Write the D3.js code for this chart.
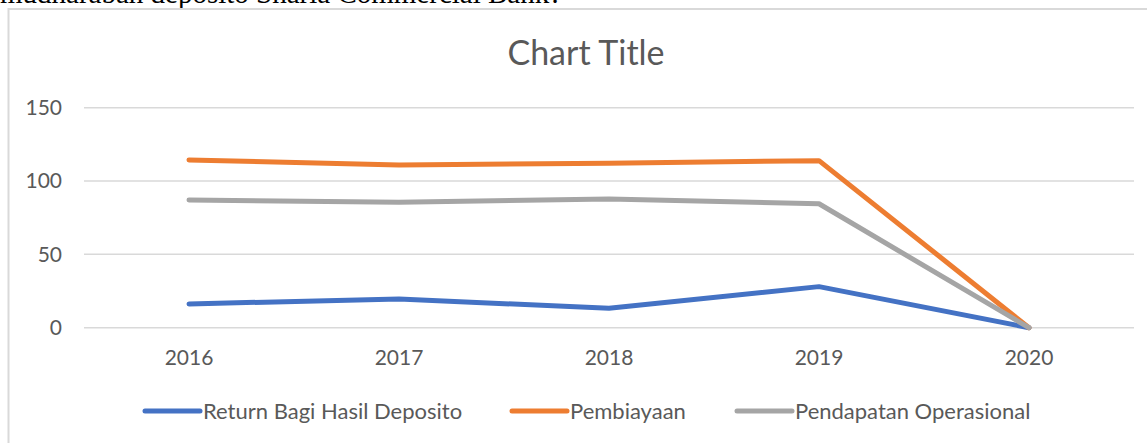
<!DOCTYPE html>
<html>
<head>
<meta charset="utf-8">
<script src="https://cdn.jsdelivr.net/npm/d3@7"></script>
<style>
  html, body { margin: 0; padding: 0; background: #fff; overflow: hidden; }
  svg { display: block; }
</style>
</head>
<body>
<div id="chart"></div>
<script>
// data
const years = ["2016", "2017", "2018", "2019", "2020"];
const returnBagiHasil = [16.2, 19.6, 13.2, 28.0, 0];
const pembiayaan = [114.4, 111.0, 112.1, 113.9, 0];
const pendapatanOps = [87.1, 85.5, 87.8, 84.5, 0];
const yTicks = [0, 50, 100, 150];
const seriesNames = ["Return Bagi Hasil Deposito", "Pembiayaan", "Pendapatan Operasional"];
const seriesColors = ["#4472C4", "#ED7D31", "#A5A5A5"];

((() => {
  const W = 1147, H = 443;
  const font = "Lato, 'Open Sans', sans-serif";
  const textCol = "#595959";

  const svg = d3.select("#chart").append("svg")
    .attr("width", W).attr("height", H);

  // bit of document text cut off above the chart
  svg.append("text")
    .attr("x", 0).attr("y", 2.5)
    .attr("font-family", "'Liberation Serif', serif")
    .attr("font-size", 29)
    .attr("fill", "#000")
    .text("mudharabah deposito Sharia Commercial Bank?");

  // chart area box
  svg.append("rect")
    .attr("x", 8.5).attr("y", 9)
    .attr("width", 1170).attr("height", 460)
    .attr("fill", "#fff")
    .attr("stroke", "#d9d9d9")
    .attr("stroke-width", 2);

  svg.append("text")
    .attr("x", 586).attr("y", 65)
    .attr("text-anchor", "middle")
    .attr("font-family", font)
    .attr("font-size", 34)
    .attr("fill", textCol)
    .text("Chart Title");

  const x = d3.scaleBand().domain(years).range([84, 1134]);
  const y = d3.scaleLinear().domain([0, 150]).range([327.7, 107.7]);

  // gridlines
  svg.append("g").selectAll("line")
    .data(yTicks).enter().append("line")
    .attr("x1", x.range()[0]).attr("x2", x.range()[1])
    .attr("y1", d => y(d)).attr("y2", d => y(d))
    .attr("stroke", "#d9d9d9").attr("stroke-width", 1.5);

  // y axis labels
  svg.append("g").selectAll("text")
    .data(yTicks).enter().append("text")
    .attr("x", 62).attr("y", d => y(d))
    .attr("dy", "0.35em")
    .attr("text-anchor", "end")
    .attr("font-family", font).attr("font-size", 21)
    .attr("fill", textCol)
    .text(d => d);

  // x axis labels
  svg.append("g").selectAll("text")
    .data(years).enter().append("text")
    .attr("x", d => x(d) + x.bandwidth() / 2)
    .attr("y", 358).attr("dy", "0.35em")
    .attr("text-anchor", "middle")
    .attr("font-family", font).attr("font-size", 21)
    .attr("fill", textCol)
    .text(d => d);

  const allSeries = [returnBagiHasil, pembiayaan, pendapatanOps];
  const line = d3.line()
    .x((d, i) => x(years[i]) + x.bandwidth() / 2)
    .y(d => y(d));

  // draw order: blue, orange, gray (gray on top)
  allSeries.forEach((vals, k) => {
    svg.append("path")
      .datum(vals)
      .attr("d", line)
      .attr("fill", "none")
      .attr("stroke", seriesColors[k])
      .attr("stroke-width", 5)
      .attr("stroke-linecap", "round")
      .attr("stroke-linejoin", "round");
  });

  // legend
  const legendX = [145, 512, 737];
  const legend = svg.selectAll(".legend")
    .data(seriesNames).enter().append("g")
    .attr("class", "legend")
    .attr("transform", (d, i) => "translate(" + legendX[i] + ",411)");

  legend.append("line")
    .attr("x1", 0).attr("x2", 55)
    .attr("stroke", (d, i) => seriesColors[i])
    .attr("stroke-width", 5)
    .attr("stroke-linecap", "round");

  legend.append("text")
    .attr("x", 58).attr("dy", "0.35em")
    .attr("font-family", font).attr("font-size", 22)
    .attr("fill", textCol)
    .text(d => d);
})());
</script>
</body>
</html>
